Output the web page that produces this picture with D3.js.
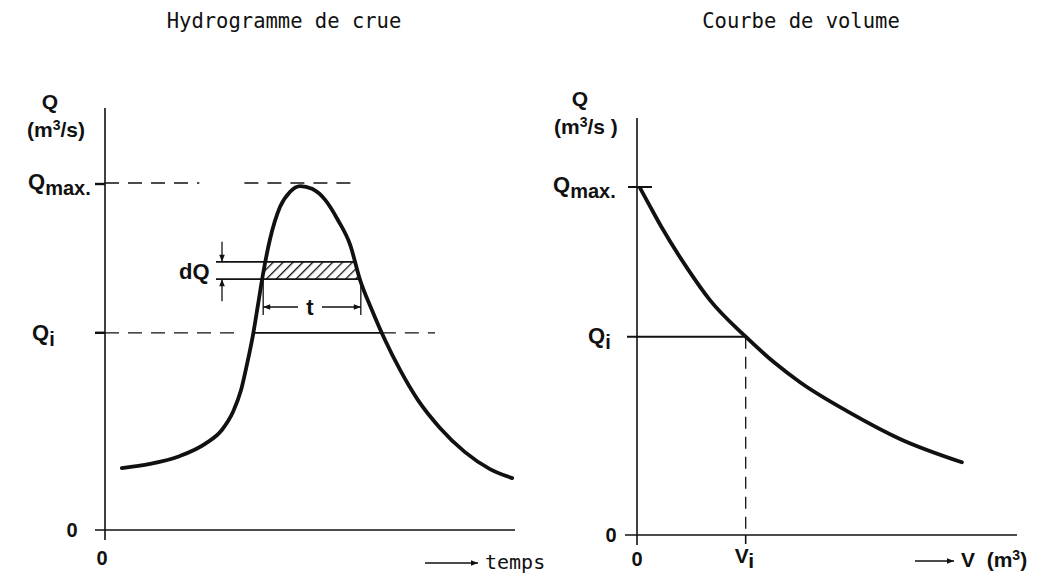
<!DOCTYPE html>
<html>
<head>
<meta charset="utf-8">
<script src="https://cdn.jsdelivr.net/npm/d3@7"></script>
<style>
  body { margin: 0; background: #fff; }
  svg { display: block; }
  .lbl { font-family: 'Liberation Sans', Arial, sans-serif; font-weight: bold; fill: #111; }
  .mono { font-family: 'DejaVu Sans Mono', monospace; fill: #111; }
</style>
</head>
<body>
<svg id="chart" width="1051" height="581"></svg>
<script>
// hydrogramme (time, Q in % of Qmax)
const hydroT = [0.41, 1.10, 1.83, 2.44, 2.85, 3.12, 3.32, 3.46, 3.61, 3.73, 3.85, 4.02, 4.27, 4.51, 4.76, 5.05, 5.37, 5.68, 5.98, 6.22, 6.51, 6.83, 7.20, 7.63, 8.17, 8.78, 9.39, 9.93];
const hydroQ = [17.9, 19.1, 21.4, 24.9, 28.9, 34.1, 40.5, 47.7, 56.4, 65.0, 73.7, 83.8, 93.4, 97.7, 99.4, 98.6, 95.4, 89.6, 82.4, 72.3, 63.6, 54.9, 46.2, 37.6, 29.5, 22.5, 17.6, 15.0];
// courbe de volume (V, Q)
const volV = [0.08, 0.34, 0.66, 1.32, 1.92, 2.84, 3.63, 4.29, 5.61, 6.92, 8.55];
const volQ = [99.7, 94.5, 88.2, 76.7, 67.5, 57.2, 49.4, 43.9, 35.1, 27.6, 20.9];
const qMax = 100;
const qI = 57;
const dQ = [72.5, 77.5];

const svg = d3.select('#chart');
const ink = '#111';

// crossings of a polyline with a horizontal level
function crossings(xs, ys, level) {
  const out = [];
  for (let i = 0; i < xs.length - 1; i++) {
    const a = ys[i], b = ys[i + 1];
    if ((a - level) * (b - level) <= 0 && a !== b) {
      out.push(xs[i] + (level - a) / (b - a) * (xs[i + 1] - xs[i]));
    }
  }
  return out;
}

const defs = svg.append('defs');
defs.append('marker')
  .attr('id', 'arr')
  .attr('viewBox', '0 0 10 10')
  .attr('refX', 10).attr('refY', 5)
  .attr('markerWidth', 10).attr('markerHeight', 7)
  .attr('markerUnits', 'userSpaceOnUse')
  .attr('orient', 'auto-start-reverse')
  .append('path').attr('d', 'M0,1 L10,5 L0,9 Z').attr('fill', ink);

defs.append('pattern')
  .attr('id', 'hatch')
  .attr('patternUnits', 'userSpaceOnUse')
  .attr('width', 7).attr('height', 7)
  .attr('patternTransform', 'rotate(45)')
  .append('line')
    .attr('x1', 0).attr('y1', 0).attr('x2', 0).attr('y2', 7)
    .attr('stroke', ink).attr('stroke-width', 2.6);

function qLabel(g, x, y, sub) {
  const t = g.append('text').attr('class', 'lbl').attr('x', x).attr('y', y).attr('font-size', 22);
  t.append('tspan').text('Q');
  t.append('tspan').attr('dy', 6).attr('font-size', 20).text(sub);
}

const curveLine = (x, y) => d3.line().x(d => x(d[0])).y(d => y(d[1])).curve(d3.curveMonotoneX);

// ---------- left : Hydrogramme de crue ----------
const xL = d3.scaleLinear().domain([0, 10]).range([105, 515]);
const yL = d3.scaleLinear().domain([0, 100]).range([530, 184]);
const gL = svg.append('g');

gL.append('text').attr('class', 'mono').attr('x', 284).attr('y', 28)
  .attr('text-anchor', 'middle').attr('font-size', 20.5).attr('font-weight', 500).text('Hydrogramme de crue');

// axes
gL.append('line').attr('x1', xL(0)).attr('x2', xL(0))
  .attr('y1', yL(0) + 10).attr('y2', yL(qMax) - 76)
  .attr('stroke', ink).attr('stroke-width', 1.6);
gL.append('line').attr('x1', xL(0) - 10).attr('x2', xL(10))
  .attr('y1', yL(0)).attr('y2', yL(0))
  .attr('stroke', ink).attr('stroke-width', 1.6);
[qMax, qI].forEach(q => {
  gL.append('line').attr('x1', xL(0) - 10).attr('x2', xL(0))
    .attr('y1', yL(q)).attr('y2', yL(q)).attr('stroke', ink).attr('stroke-width', 2.4);
});

// Qmax dashes
[[0, 2.3], [3.4, 6.0]].forEach(([a, b]) => {
  gL.append('line').attr('x1', xL(a)).attr('x2', xL(b))
    .attr('y1', yL(qMax) - 1).attr('y2', yL(qMax) - 1)
    .attr('stroke', ink).attr('stroke-width', 1.3).attr('stroke-dasharray', '14,9');
});

// Qi : dashed / solid between crossings / dashed
const ci = crossings(hydroT, hydroQ, qI);
gL.append('line').attr('x1', xL(0)).attr('x2', xL(3.3))
  .attr('y1', yL(qI)).attr('y2', yL(qI))
  .attr('stroke', ink).attr('stroke-width', 1.3).attr('stroke-dasharray', '14,9');
gL.append('line').attr('x1', xL(ci[0])).attr('x2', xL(ci[1]))
  .attr('y1', yL(qI)).attr('y2', yL(qI))
  .attr('stroke', ink).attr('stroke-width', 1.8);
gL.append('line').attr('x1', xL(ci[1])).attr('x2', xL(8.05))
  .attr('y1', yL(qI)).attr('y2', yL(qI))
  .attr('stroke', ink).attr('stroke-width', 1.3).attr('stroke-dasharray', '14,9');

// hatched band dQ
const cLo = crossings(hydroT, hydroQ, dQ[0]);
const cHi = crossings(hydroT, hydroQ, dQ[1]);
gL.append('path')
  .attr('d', `M${xL(cLo[0])},${yL(dQ[0])} L${xL(cHi[0])},${yL(dQ[1])} L${xL(cHi[1])},${yL(dQ[1])} L${xL(cLo[1])},${yL(dQ[0])} Z`)
  .attr('fill', 'url(#hatch)');
dQ.forEach((q, i) => {
  const c = i === 0 ? cLo : cHi;
  gL.append('line').attr('x1', 216).attr('x2', xL(c[1]))
    .attr('y1', yL(q)).attr('y2', yL(q)).attr('stroke', ink).attr('stroke-width', 1.8);
});
gL.append('line').attr('x1', 222).attr('x2', 222)
  .attr('y1', yL(dQ[1]) - 20).attr('y2', yL(dQ[1]))
  .attr('stroke', ink).attr('stroke-width', 1.3).attr('marker-end', 'url(#arr)');
gL.append('line').attr('x1', 222).attr('x2', 222)
  .attr('y1', yL(dQ[0]) + 22).attr('y2', yL(dQ[0]))
  .attr('stroke', ink).attr('stroke-width', 1.3).attr('marker-end', 'url(#arr)');
gL.append('text').attr('class', 'lbl').attr('x', 179).attr('y', 279)
  .attr('font-size', 22).text('dQ');

// t dimension
const tY = 307;
[cLo[0], cLo[1]].forEach(t => {
  gL.append('line').attr('x1', xL(t) + 1).attr('x2', xL(t) + 1)
    .attr('y1', yL(dQ[0])).attr('y2', tY + 8)
    .attr('stroke', ink).attr('stroke-width', 1.3);
});
gL.append('line').attr('x1', 298).attr('x2', xL(cLo[0]) + 1)
  .attr('y1', tY).attr('y2', tY).attr('stroke', ink).attr('stroke-width', 1.6)
  .attr('marker-end', 'url(#arr)');
gL.append('line').attr('x1', 322).attr('x2', xL(cLo[1]) + 1)
  .attr('y1', tY).attr('y2', tY).attr('stroke', ink).attr('stroke-width', 1.6)
  .attr('marker-end', 'url(#arr)');
gL.append('text').attr('class', 'lbl').attr('x', 310).attr('y', 315)
  .attr('text-anchor', 'middle').attr('font-size', 22).text('t');

// curve
gL.append('path')
  .datum(d3.zip(hydroT, hydroQ))
  .attr('d', curveLine(xL, yL))
  .attr('fill', 'none').attr('stroke', ink).attr('stroke-width', 3.8)
  .attr('stroke-linecap', 'round').attr('stroke-linejoin', 'round');

// labels
gL.append('text').attr('class', 'lbl').attr('x', 50).attr('y', 109)
  .attr('text-anchor', 'middle').attr('font-size', 21).text('Q');
gL.append('text').attr('class', 'lbl').attr('x', 27).attr('y', 137)
  .attr('font-size', 21).html('(m<tspan font-size="14" dy="-7">3</tspan><tspan dy="7">/s)</tspan>');
qLabel(gL, 28, 189, 'max.');
qLabel(gL, 32, 340, 'i');
gL.append('text').attr('class', 'lbl').attr('x', 72).attr('y', 537)
  .attr('text-anchor', 'middle').attr('font-size', 20).text('0');
gL.append('text').attr('class', 'lbl').attr('x', xL(0) - 3).attr('y', 565)
  .attr('text-anchor', 'middle').attr('font-size', 20).text('0');
gL.append('line').attr('x1', 425).attr('x2', 478).attr('y1', 563).attr('y2', 563)
  .attr('stroke', ink).attr('stroke-width', 1.6).attr('marker-end', 'url(#arr)');
gL.append('text').attr('class', 'mono').attr('x', 485).attr('y', 569)
  .attr('font-size', 20).text('temps');

// ---------- right : Courbe de volume ----------
const xR = d3.scaleLinear().domain([0, 10]).range([637, 1017]);
const yR = d3.scaleLinear().domain([0, 100]).range([535, 187]);
const gR = svg.append('g');

gR.append('text').attr('class', 'mono').attr('x', 801).attr('y', 28)
  .attr('text-anchor', 'middle').attr('font-size', 20.5).attr('font-weight', 500).text('Courbe de volume');

gR.append('line').attr('x1', xR(0)).attr('x2', xR(0))
  .attr('y1', yR(0) + 10).attr('y2', yR(qMax) - 69)
  .attr('stroke', ink).attr('stroke-width', 1.6);
gR.append('line').attr('x1', xR(0) - 12).attr('x2', xR(10))
  .attr('y1', yR(0)).attr('y2', yR(0))
  .attr('stroke', ink).attr('stroke-width', 1.6);
gR.append('line').attr('x1', xR(0) - 9).attr('x2', xR(0) + 15)
  .attr('y1', yR(qMax)).attr('y2', yR(qMax)).attr('stroke', ink).attr('stroke-width', 2);

const vI = crossings(volV, volQ, qI)[0];
gR.append('line').attr('x1', xR(0) - 10).attr('x2', xR(vI))
  .attr('y1', yR(qI)).attr('y2', yR(qI)).attr('stroke', ink).attr('stroke-width', 2);
gR.append('line').attr('x1', xR(vI)).attr('x2', xR(vI))
  .attr('y1', yR(qI)).attr('y2', yR(0))
  .attr('stroke', ink).attr('stroke-width', 1.3).attr('stroke-dasharray', '12,8');
gR.append('line').attr('x1', xR(vI)).attr('x2', xR(vI))
  .attr('y1', yR(0)).attr('y2', yR(0) + 9)
  .attr('stroke', ink).attr('stroke-width', 1.6);

gR.append('path')
  .datum(d3.zip(volV, volQ))
  .attr('d', curveLine(xR, yR))
  .attr('fill', 'none').attr('stroke', ink).attr('stroke-width', 3.8)
  .attr('stroke-linecap', 'round').attr('stroke-linejoin', 'round');

gR.append('text').attr('class', 'lbl').attr('x', 580).attr('y', 106)
  .attr('text-anchor', 'middle').attr('font-size', 21).text('Q');
gR.append('text').attr('class', 'lbl').attr('x', 554).attr('y', 134)
  .attr('font-size', 21).html('(m<tspan font-size="14" dy="-7">3</tspan><tspan dy="7">/s )</tspan>');
qLabel(gR, 553, 192, 'max.');
qLabel(gR, 588, 343, 'i');
gR.append('text').attr('class', 'lbl').attr('x', 611).attr('y', 542)
  .attr('text-anchor', 'middle').attr('font-size', 20).text('0');
gR.append('text').attr('class', 'lbl').attr('x', xR(0)).attr('y', 566)
  .attr('text-anchor', 'middle').attr('font-size', 20).text('0');
gR.append('text').attr('class', 'lbl').attr('x', xR(vI) - 11).attr('y', 563)
  .attr('font-size', 21).html('V<tspan dy="5">i</tspan>');
gR.append('line').attr('x1', 915).attr('x2', 954).attr('y1', 561).attr('y2', 561)
  .attr('stroke', ink).attr('stroke-width', 1.6).attr('marker-end', 'url(#arr)');
gR.append('text').attr('class', 'lbl').attr('x', 961).attr('y', 567)
  .attr('font-size', 21).attr('xml:space', 'preserve')
  .html('V  (m<tspan font-size="14" dy="-7">3</tspan><tspan dy="7">)</tspan>');
</script>
</body>
</html>
